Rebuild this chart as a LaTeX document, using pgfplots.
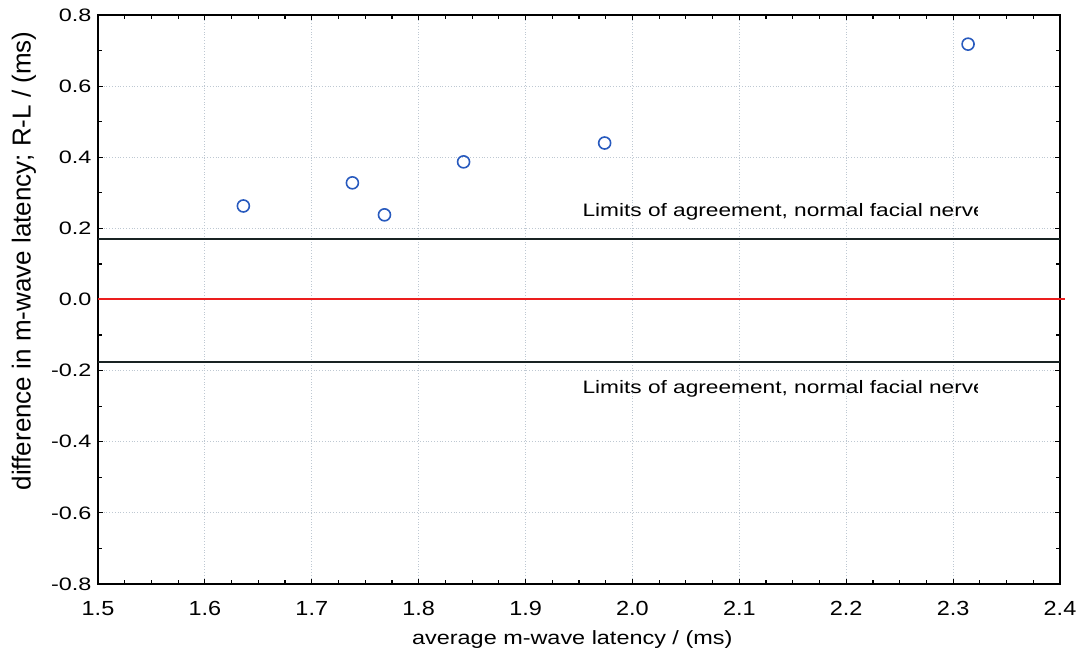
\documentclass[border=0pt]{standalone}
\usepackage{fontspec}
\setmainfont{Liberation Sans}
\usepackage{pgfplots}
\pgfplotsset{compat=1.18}

\definecolor{markblue}{RGB}{40,90,190}
\definecolor{gridgray}{RGB}{190,200,210}
\definecolor{limitgray}{RGB}{25,35,35}
\definecolor{zerored}{RGB}{235,30,30}

\begin{document}
\begin{tikzpicture}
\begin{axis}[
  at={(0,0)}, anchor=south west,
  set layers,
  scale only axis,
  width=481pt, height=284.5pt,
  xmin=1.5, xmax=2.4, ymin=-0.8, ymax=0.8,
  xtick={1.5,1.6,...,2.41},
  ytick={-0.8,-0.6,...,0.81},
  minor x tick num=3,
  minor y tick num=1,
  tick align=inside,
  major tick length=2.5pt,
  minor tick length=1.8pt,
  tick style={black, line width=0.6pt},
  axis line style={black, line width=0.9pt},
  grid=major,
  major grid style={gridgray, densely dotted, line width=0.4pt},
  /pgf/number format/assume math mode=true,
  /pgf/number format/.cd, fixed, fixed zerofill, precision=1,
  /pgfplots/.cd,
  yticklabel style={font=\fontsize{9}{10}\selectfont, xscale=1.3, xshift=1pt},
  xticklabel style={font=\fontsize{10.2}{11}\selectfont, xscale=1.15, yshift=-5pt},
  xlabel={average m-wave latency / (ms)},
  ylabel={difference in m-wave latency; R-L / (ms)},
  every axis x label/.style={at={(axis description cs:0.493,0)}, yshift=-28pt,
    anchor=center, font=\fontsize{9.6}{11}\selectfont, xscale=1.22},
  every axis y label/.style={at={(axis description cs:-0.077,0.568)}, rotate=90,
    anchor=center, font=\fontsize{13}{15}\selectfont},
  clip=false,
]
% limits of agreement
\addplot[draw=limitgray, line width=1pt, on layer=axis foreground]
  coordinates {(1.5,0.170) (2.4,0.170)};
\addplot[draw=limitgray, line width=1pt, on layer=axis foreground]
  coordinates {(1.5,-0.176) (2.4,-0.176)};
% zero difference line
\addplot[draw=zerored, line width=1pt, on layer=axis foreground]
  coordinates {(1.5,0) (2.405,0)};

% right / left differences against average latency
\addplot[only marks, mark=o, mark size=3pt, mark options={markblue, line width=0.8pt}]
  coordinates {
    (1.636,0.263)
    (1.738,0.328)
    (1.768,0.238)
    (1.842,0.387)
    (1.974,0.440)
    (2.314,0.718)
  };

% limit labels, cut off at the right as in the original export
\begin{scope}
  \clip (axis cs:1.5,-0.8) rectangle (axis cs:2.3232,0.8);
  \node[anchor=base west, font=\fontsize{9}{10}\selectfont, xscale=1.26, inner sep=0pt]
    at (axis cs:1.9528,0.232) {Limits of agreement, normal facial nerve};
  \node[anchor=base west, font=\fontsize{9}{10}\selectfont, xscale=1.26, inner sep=0pt]
    at (axis cs:1.9528,-0.263) {Limits of agreement, normal facial nerve};
\end{scope}
\end{axis}
% page extent
\path (-49pt,-41.5pt) rectangle (496pt,292pt);
\end{tikzpicture}
\end{document}
